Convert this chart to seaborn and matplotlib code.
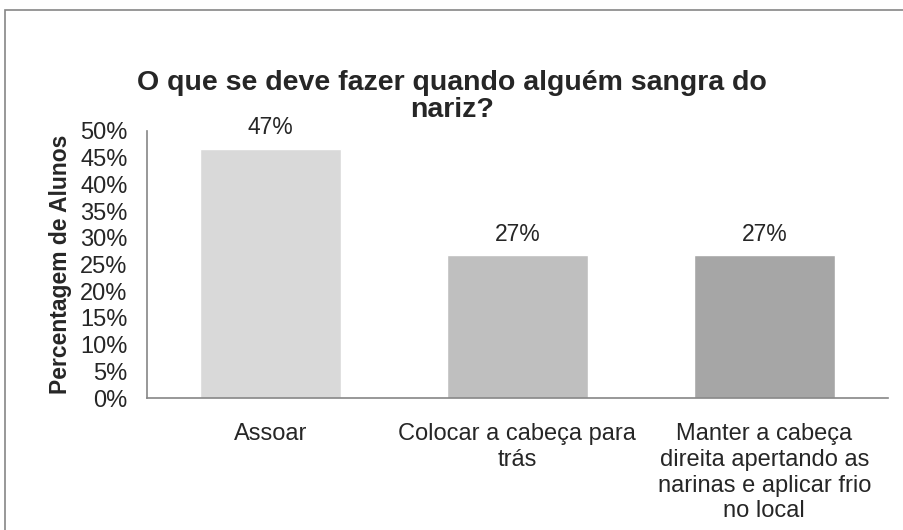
import matplotlib
matplotlib.use("Agg")
import matplotlib.pyplot as plt
import seaborn as sns
import pandas as pd
from matplotlib.patches import Rectangle
from matplotlib.ticker import PercentFormatter

# === Data ===
categories = [
    "Assoar",
    "Colocar a cabeça para\ntrás",
    "Manter a cabeça\ndireita apertando as\nnarinas e aplicar frio\nno local",
]
percentages = [0.467, 0.267, 0.267]
bar_colors = ["#d9d9d9", "#bfbfbf", "#a6a6a6"]
title_lines = ["O que se deve fazer quando alguém sangra do", "nariz?"]

df = pd.DataFrame({"categoria": categories, "pct": percentages})

sns.set_style("white")
plt.rcParams["font.family"] = ["Liberation Sans", "DejaVu Sans"]

fig = plt.figure(figsize=(9.04, 5.30), dpi=100)
ax = fig.add_axes([0.1626, 0.249, 0.8194, 0.504])

sns.barplot(data=df, x="categoria", y="pct", hue="categoria",
            palette=bar_colors, width=0.57, legend=False, ax=ax)

ax.set_ylim(0, 0.5)
ax.set_yticks([i * 0.05 for i in range(11)])
ax.yaxis.set_major_formatter(PercentFormatter(1.0, decimals=0))
ax.tick_params(axis="both", labelsize=17, length=0)
ax.tick_params(axis="y", pad=14)
ax.tick_params(axis="x", pad=18)
for lbl in ax.get_xticklabels():
    lbl.set_linespacing(1.22)
ax.set_xlabel("")
ax.set_ylabel("Percentagem de Alunos", fontsize=16.5, fontweight="bold", labelpad=6)

for side in ["top", "right"]:
    ax.spines[side].set_visible(False)
for side in ["left", "bottom"]:
    ax.spines[side].set_color("#868686")
    ax.spines[side].set_linewidth(1.2)

for container in ax.containers:
    ax.bar_label(container, labels=[f"{v:.0%}" for v in container.datavalues],
                 fontsize=16.5, padding=7)

# title as two centred lines
for i, line in enumerate(title_lines):
    fig.text(0.5, 1 - (90 + 27 * i) / 530, line, ha="center", va="baseline",
             fontsize=20.5, fontweight="bold")

# outer chart frame
fig.patches.append(Rectangle((5 / 904, -0.1), 1.1, 1 - 10 / 530 + 0.1,
                             transform=fig.transFigure, fill=False,
                             edgecolor="#868686", linewidth=1.2))

fig.savefig("out.png", dpi=100)
